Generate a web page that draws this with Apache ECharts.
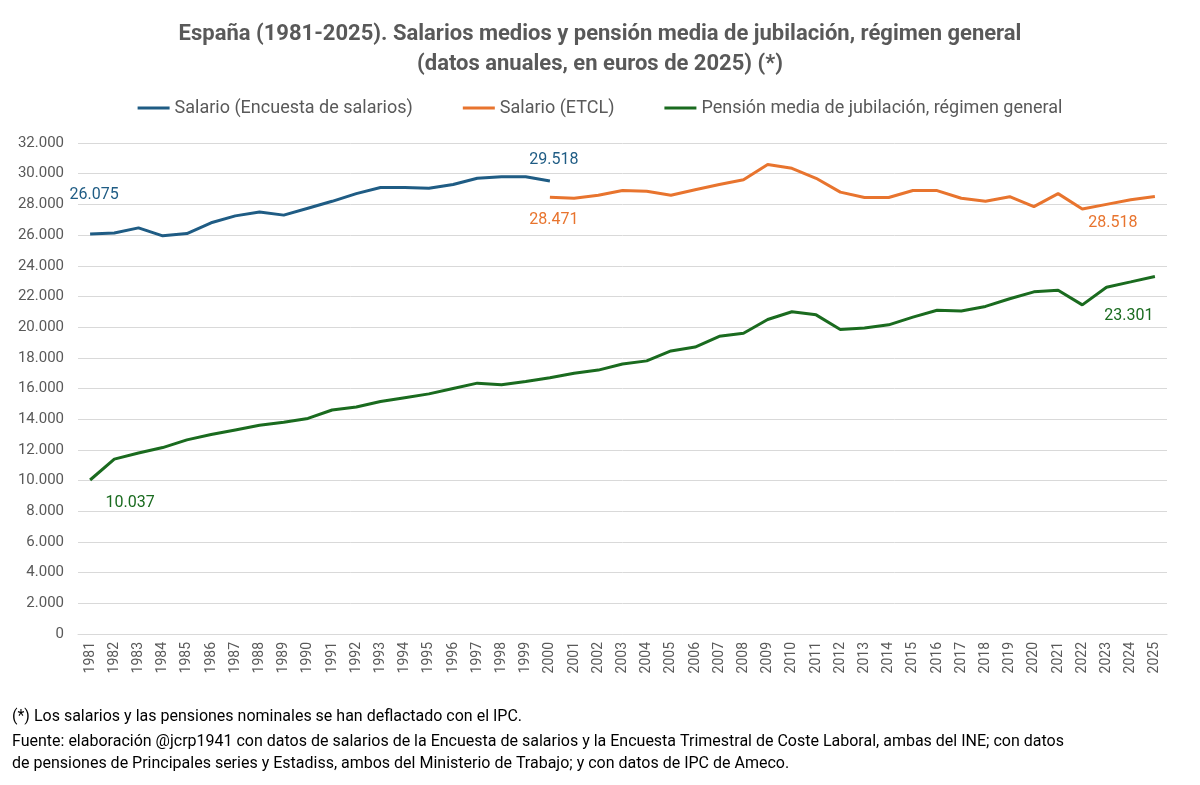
<!DOCTYPE html>
<html><head><meta charset="utf-8">
<script src="https://cdn.jsdelivr.net/npm/echarts@6/dist/echarts.min.js"></script>
<style>html,body{margin:0;background:#fff}#c{width:1200px;height:785px}</style>
</head><body><div id="c"></div>
<script>
const years = [];
for (let y = 1981; y <= 2025; y++) years.push(String(y));

// 1981-2000
const salarioEncuesta = [26075, 26140, 26470, 25950, 26100, 26800, 27250, 27500, 27300, 27750,
  28200, 28700, 29100, 29100, 29050, 29300, 29700, 29800, 29800, 29518];
// 2000-2025
const salarioETCL = [28471, 28400, 28600, 28900, 28850, 28600, 28950, 29300, 29600, 30600,
  30350, 29700, 28800, 28450, 28450, 28900, 28900, 28400, 28200, 28500,
  27850, 28700, 27700, 28000, 28300, 28518];
// 1981-2025
const pension = [10037, 11400, 11800, 12150, 12650, 13000, 13300, 13600, 13800, 14050,
  14600, 14800, 15150, 15400, 15650, 16000, 16350, 16250, 16450, 16700,
  17000, 17200, 17600, 17800, 18450, 18700, 19400, 19600, 20500, 21000,
  20800, 19850, 19950, 20150, 20650, 21100, 21050, 21350, 21850, 22300,
  22400, 21450, 22600, 22950, 23301];

const fmt = v => Math.round(v).toString().replace(/\B(?=(\d{3})+(?!\d))/g, '.');

function lab(v, color, pos, offset) {
  return { value: v, label: { show: true, position: pos, offset: offset, color: color, fontSize: 16, formatter: p => fmt(p.value) } };
}

const blueData = years.map((y, i) => i < salarioEncuesta.length ? salarioEncuesta[i] : null);
blueData[0] = lab(salarioEncuesta[0], '#1f5c84', 'top', [4, -26]);
blueData[19] = lab(salarioEncuesta[19], '#1f5c84', 'top', [4, -8]);

const orangeData = years.map((y, i) => i >= 19 ? salarioETCL[i - 19] : null);
orangeData[19] = lab(salarioETCL[0], '#e8742e', 'bottom', [4, 10]);
orangeData[44] = lab(salarioETCL[25], '#e8742e', 'bottom', [-42, 14]);

const greenData = pension.slice();
greenData[0] = lab(pension[0], '#1a6b1f', 'bottom', [40, 10]);
greenData[44] = lab(pension[44], '#1a6b1f', 'bottom', [-26, 26]);

const chart = echarts.init(document.getElementById('c'));
const font = 'Roboto, "DejaVu Sans", sans-serif';
const lineCommon = { type: 'line', lineStyle: { width: 3 }, symbol: 'circle', symbolSize: 0.1, connectNulls: false };
chart.setOption({
  animation: false,
  textStyle: { fontFamily: font },
  title: {
    text: 'España (1981-2025). Salarios medios y pensión media de jubilación, régimen general\n(datos anuales, en euros de 2025) (*)',
    left: 'center', top: 14,
    textStyle: { fontSize: 22, fontWeight: 'bold', color: '#595959', lineHeight: 30 }
  },
  legend: {
    top: 94, left: 'center', itemGap: 50, itemWidth: 32, itemHeight: 3, icon: 'rect',
    textStyle: { fontSize: 18, color: '#595959' },
    data: ['Salario (Encuesta de salarios)', 'Salario (ETCL)', 'Pensión media de jubilación, régimen general']
  },
  grid: { left: 78, right: 33, top: 143, bottom: 151 },
  xAxis: {
    type: 'category', data: years, boundaryGap: true,
    axisLine: { lineStyle: { color: '#d9d9d9' } },
    axisTick: { show: false },
    axisLabel: { rotate: 90, color: '#595959', fontSize: 14, interval: 0 }
  },
  yAxis: {
    type: 'value', min: 0, max: 32000, interval: 2000,
    axisLabel: { color: '#595959', fontSize: 15, formatter: v => fmt(v), margin: 14 },
    splitLine: { lineStyle: { color: '#d9d9d9' } }
  },
  series: [
    Object.assign({ name: 'Salario (Encuesta de salarios)', data: blueData, color: '#1f5c84' }, lineCommon),
    Object.assign({ name: 'Salario (ETCL)', data: orangeData, color: '#e8742e' }, lineCommon),
    Object.assign({ name: 'Pensión media de jubilación, régimen general', data: greenData, color: '#1a6b1f' }, lineCommon)
  ],
  graphic: [
    { type: 'text', left: 12, top: 709, style: { text: '(*) Los salarios y las pensiones nominales se han deflactado con el IPC.', fontSize: 16, fill: '#000', fontFamily: font } },
    { type: 'text', left: 12, top: 731, style: { text: 'Fuente: elaboración @jcrp1941 con datos de salarios de la Encuesta de salarios y la Encuesta Trimestral de Coste Laboral, ambas del INE; con datos\nde pensiones de Principales series y Estadiss, ambos del Ministerio de Trabajo; y con datos de IPC de Ameco.', fontSize: 16, lineHeight: 22, fill: '#000', fontFamily: font } }
  ]
});
</script></body></html>
